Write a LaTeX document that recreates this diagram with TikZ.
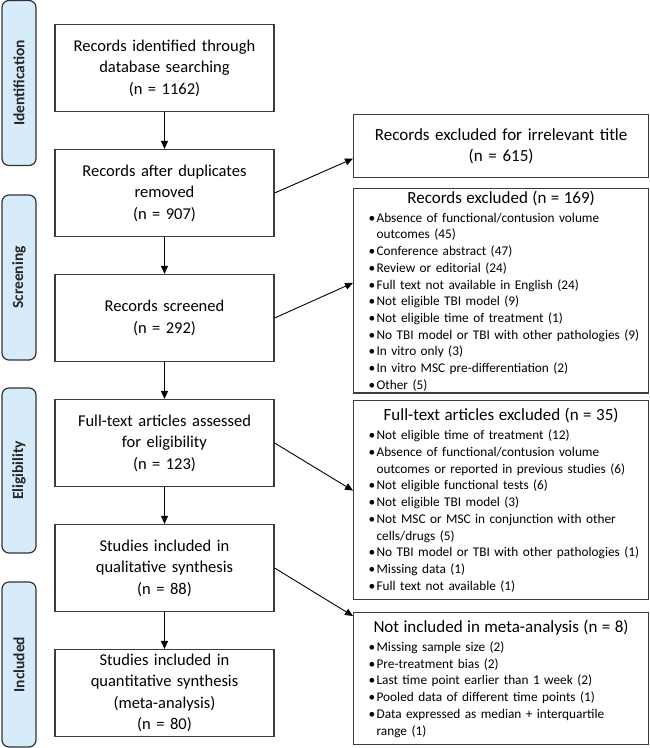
\documentclass[tikz,border=0pt]{standalone}
\usepackage{fontspec}
\setmainfont{Carlito}
\usepackage{tikz}
\usetikzlibrary{arrows.meta, positioning}
\usepackage{xcolor}

\definecolor{stagefill}{RGB}{214,236,251}
\definecolor{boxline}{RGB}{60,60,60}

\hyphenpenalty=10000
\exhyphenpenalty=10000
\newcommand{\bitem}[1]{\par\hangindent=19pt\hangafter=1\noindent\hspace*{11pt}\makebox[8pt][l]{\textbullet}#1\par}
\newcommand{\listhead}[1]{{\centering\fontsize{17}{20}\selectfont #1\par}\vspace{2.5pt}}

\begin{document}
\begin{tikzpicture}[x=1pt,y=-1pt,node distance=125pt,>={Triangle[length=8pt,width=7pt]}]
  \tikzstyle{stage}=[draw=black!80,fill=stagefill,rounded corners=7pt,line width=1.2pt,rotate=90,minimum width=165pt,minimum height=34pt,inner sep=0pt,font=\fontsize{15.5}{18}\selectfont\bfseries,text=black!85]
  \tikzstyle{flowbox}=[draw=boxline,line width=1.2pt,minimum width=219pt,minimum height=87pt,text width=210pt,align=center,inner sep=0pt,font=\fontsize{16.5}{21.5}\selectfont]
  \tikzstyle{listbox}=[draw=boxline,line width=1.2pt,anchor=north west,minimum width=295pt,text width=287pt,inner xsep=0pt,inner ysep=2pt,align=left,font=\fontsize{13.3}{16.7}\selectfont]

  \useasboundingbox (0,0) rectangle (650,748);

  % stages on the left
  \node[stage] (ident)  at (19,83)    {Identification};
  \node[stage] (screen) at (19,277.5) {Screening};
  \node[stage] (elig)   at (19,470.5) {Eligibility};
  \node[stage] (incl)   at (19,664.5) {Included};

  % main column
  \node[flowbox] (found)                    at (164.5,68) {Records identified through\\database searching\\(n = 1162)};
  \node[flowbox] (dedup)  [below of=found]  {Records after duplicates\\removed\\(n = 907)};
  \node[flowbox] (scrnd)  [below of=dedup]  {Records screened\\(n = 292)};
  \node[flowbox] (fulltx) [below of=scrnd]  {Full-text articles assessed\\for eligibility\\(n = 123)};
  \node[flowbox] (qual)   [below of=fulltx] {Studies included in\\qualitative synthesis\\(n = 88)};
  \node[flowbox] (quant)  [below of=qual]   {Studies included in\\quantitative synthesis\\(meta-analysis)\\(n = 80)};

  % exclusions
  \node[listbox,align=center,minimum height=63pt,font=\fontsize{17}{21}\selectfont] (title) at (353,114)
    {Records excluded for irrelevant title\\(n = 615)};
  \node[listbox,minimum height=204pt] (recex) at (353,188) {\listhead{Records excluded (n = 169)}%
    \bitem{Absence of functional/contusion volume\newline outcomes (45)}%
    \bitem{Conference abstract (47)}%
    \bitem{Review or editorial (24)}%
    \bitem{Full text not available in English (24)}%
    \bitem{Not eligible TBI model (9)}%
    \bitem{Not eligible time of treatment (1)}%
    \bitem{No TBI model or TBI with other pathologies (9)}%
    \bitem{In vitro only (3)}%
    \bitem{In vitro MSC pre-differentiation (2)}%
    \bitem{Other (5)}};
  \node[listbox,minimum height=199pt] (ftex) at (353,400) {\listhead{Full-text articles excluded (n = 35)}%
    \bitem{Not eligible time of treatment (12)}%
    \bitem{Absence of functional/contusion volume\newline outcomes or reported in previous studies (6)}%
    \bitem{Not eligible functional tests (6)}%
    \bitem{Not eligible TBI model (3)}%
    \bitem{Not MSC or MSC in conjunction with other\newline cells/drugs (5)}%
    \bitem{No TBI model or TBI with other pathologies (1)}%
    \bitem{Missing data (1)}%
    \bitem{Full text not available (1)}};
  \node[listbox,minimum height=132pt] (notmeta) at (353,612) {\listhead{Not included in meta-analysis (n = 8)}%
    \bitem{Missing sample size (2)}%
    \bitem{Pre-treatment bias (2)}%
    \bitem{Last time point earlier than 1 week (2)}%
    \bitem{Pooled data of different time points (1)}%
    \bitem{Data expressed as median + interquartile\newline range (1)}};

  \path[->,line width=0.9pt]
  (found)  edge (dedup)
  (dedup)  edge (scrnd)
  (scrnd)  edge (fulltx)
  (fulltx) edge (qual)
  (qual)   edge (quant)
  (dedup.east)  edge ([yshift=-12.5pt]title.west)
  (scrnd.east)  edge ([yshift=8pt]recex.west)
  (fulltx.east) edge ([yshift=9.5pt]ftex.west)
  (qual.east)   edge ([yshift=-4pt]notmeta.north west)
  ;
\end{tikzpicture}
\end{document}
